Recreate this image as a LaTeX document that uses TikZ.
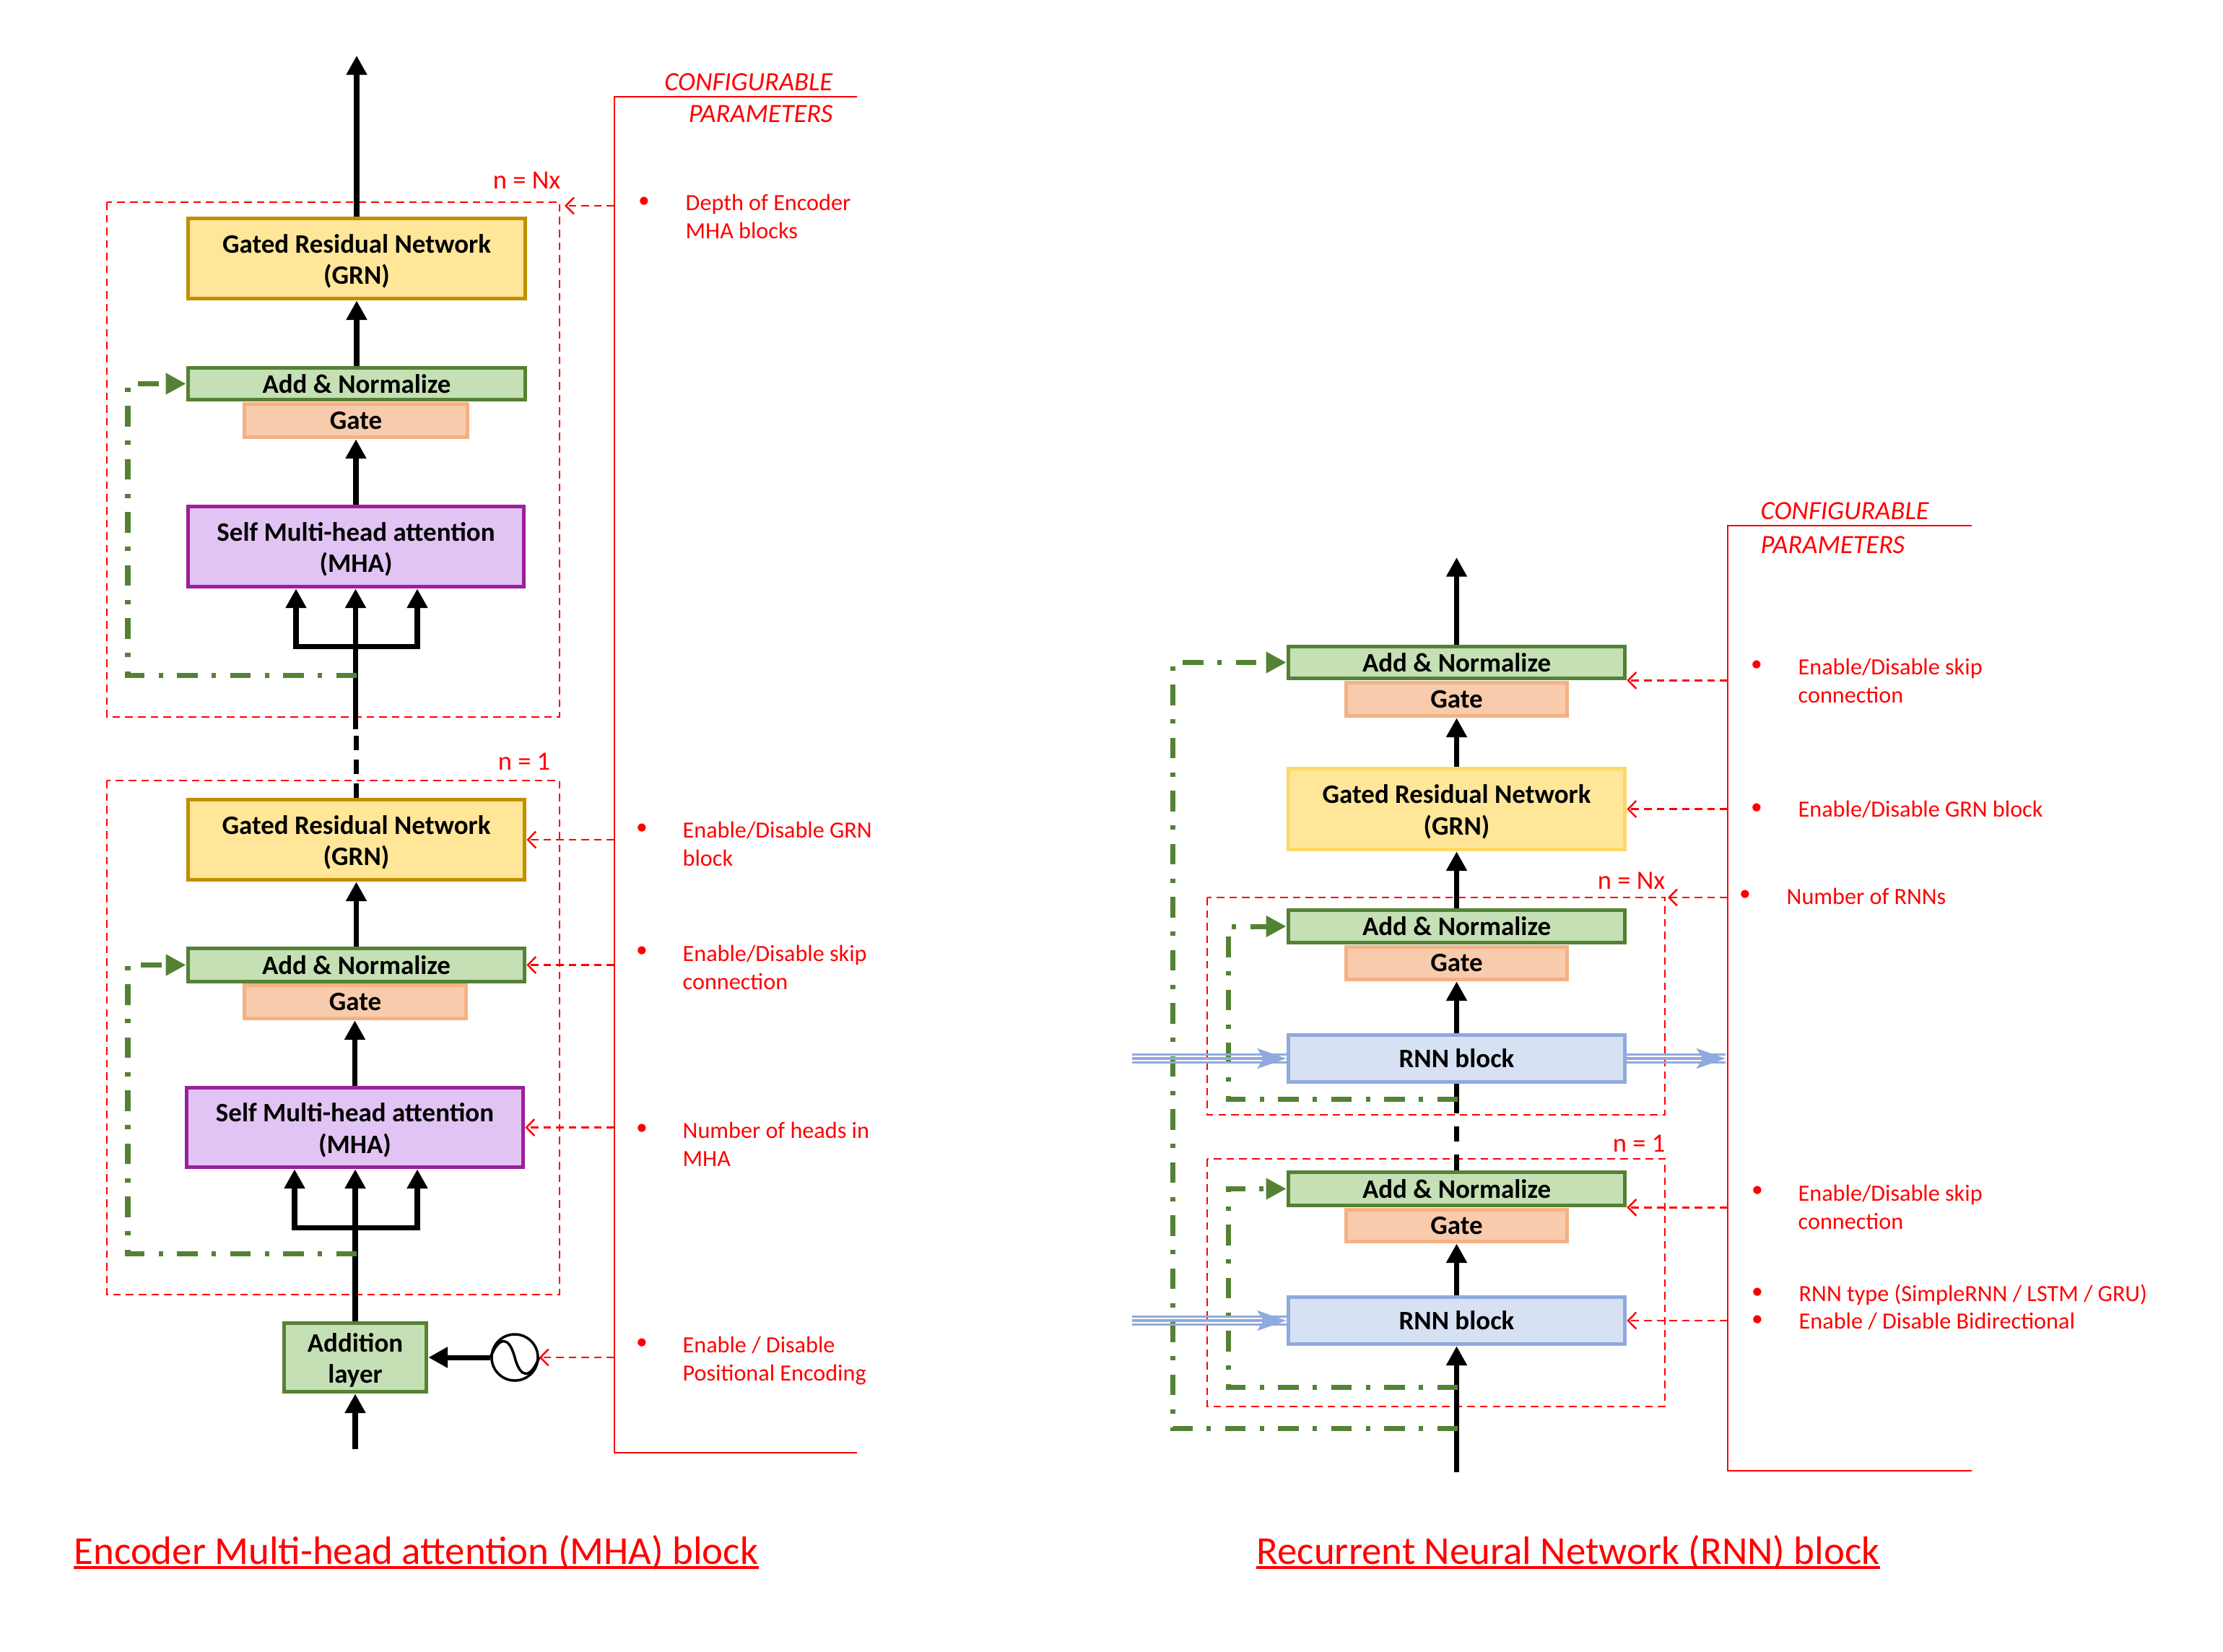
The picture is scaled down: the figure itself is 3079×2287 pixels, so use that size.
\documentclass[tikz,border=0pt]{standalone}
\usepackage{fontspec}
\setmainfont{Carlito}
\usetikzlibrary{arrows.meta,calc}
\definecolor{gline}{HTML}{548235}
\definecolor{gfill}{HTML}{C5E0B4}
\definecolor{ofill}{HTML}{F8CBAD}
\definecolor{oline}{HTML}{F4B183}
\definecolor{yfill}{HTML}{FFE699}
\definecolor{yline}{HTML}{BF9000}
\definecolor{ylight}{HTML}{FFD966}
\definecolor{pfill}{HTML}{E1C4F3}
\definecolor{pline}{HTML}{9C1F9C}
\definecolor{bfill}{HTML}{D6E2F3}
\definecolor{bline}{HTML}{8FAADC}
\newcommand{\dn}[1]{\raisebox{-1.1pt}[\height][\depth]{#1}}
\tikzset{
  x=0.01cm,y=-0.01cm,
  boxbase/.style={draw,line width=1.6pt,inner sep=0pt,align=center,font=\fontsize{10.5}{12.4}\selectfont\bfseries,text=black},
  addbox/.style={boxbase,draw=gline,fill=gfill},
  gatebox/.style={boxbase,draw=oline,fill=ofill},
  grnbox/.style={boxbase,draw=yline,fill=yfill},
  grnlight/.style={boxbase,draw=ylight,fill=yfill},
  mhabox/.style={boxbase,draw=pline,fill=pfill},
  rnnbox/.style={boxbase,draw=bline,fill=bfill},
  blk/.style={draw=black,line width=2pt,-{Triangle[length=7.6pt,width=7.8pt]}},
  blkplain/.style={draw=black,line width=2pt},
  blkdash/.style={draw=black,line width=2pt,dash pattern=on 5.7pt off 3.7pt},
  blkdashb/.style={draw=black,line width=2pt,dash pattern=on 6.2pt off 5pt},
  skipline/.style={draw=gline,line width=2pt,dash pattern=on 8pt off 5.6pt on 1.7pt off 5.6pt,-{Triangle[length=8pt,width=8pt]}},
  redbox/.style={draw=red,line width=0.7pt,dash pattern=on 3pt off 2pt},
  redarrow/.style={draw=red,line width=0.7pt,dash pattern=on 3pt off 2pt,-{Straight Barb[length=3.2pt,width=6.5pt,line width=0.7pt]}},
  frameline/.style={draw=red,line width=0.8pt},
  lab/.style={anchor=west,inner sep=0pt,text=red,align=left,font=\fontsize{9.15}{11.1}\selectfont},
  bul/.style={inner sep=0pt,text=red,font=\fontsize{9}{11}\selectfont},
  cfg/.style={inner sep=0pt,text=red,font=\fontsize{10.4}{12}\selectfont\itshape},
  nlab/.style={anchor=east,inner sep=0pt,text=red,font=\fontsize{10.4}{12}\selectfont},
  ttl/.style={anchor=west,inner sep=0pt,text=red,font=\fontsize{15.6}{18}\selectfont},
  blueln/.style={draw=bline,line width=0.9pt},
  bluehead/.style={draw=bline,line width=0.9pt,-{Stealth[length=11.5pt,width=8pt,inset=2.5pt]}},
}
\newcommand{\bx}[7]{%
  \pgfmathsetmacro{\bxcx}{(#2+#4)/2}%
  \pgfmathsetmacro{\bxcy}{(#3+#5)/2}%
  \pgfmathsetmacro{\bxw}{(#4-#2-5)*0.01}%
  \pgfmathsetmacro{\bxh}{(#5-#3-5)*0.01}%
  \node[#6,minimum width=\bxw cm,minimum height=\bxh cm] (#1) at (\bxcx,\bxcy) {#7};}
\begin{document}
\begin{tikzpicture}
\useasboundingbox (0,0) rectangle (3079,2287);
% dashed containers
\draw[redbox] (148,280) rectangle (775,993);
\draw[redbox] (148,1081) rectangle (775,1793);
\draw[redbox] (1672,1243) rectangle (2306,1544);
\draw[redbox] (1672,1605) rectangle (2306,1948);
% frames
\coordinate (fa) at (851,134); \coordinate (fb) at (851,2012);
\coordinate (ga) at (2393,728); \coordinate (gb) at (2393,2037);
\draw[frameline] (1187,134) -- (fa) -- (fb) -- (1187,2012);
\draw[frameline] (2731,728) -- (ga) -- (gb) -- (2731,2037);
% encoder boxes
\bx{grnA}{258}{300}{730}{416}{grnbox}{\dn{Gated Residual Network}\\\dn{(GRN)}}
\bx{addA}{258}{507}{730}{556}{addbox}{Add \& Normalize}
\bx{gateA}{336}{557}{650}{608}{gatebox}{Gate}
\bx{mhaA}{258}{699}{728}{815}{mhabox}{\dn{Self Multi-head attention}\\\dn{(MHA)}}
\bx{grnB}{258}{1105}{729}{1221}{grnbox}{\dn{Gated Residual Network}\\\dn{(GRN)}}
\bx{addB}{258}{1311}{729}{1362}{addbox}{Add \& Normalize}
\bx{gateB}{336}{1362}{648}{1413}{gatebox}{Gate}
\bx{mhaB}{256}{1504}{727}{1619}{mhabox}{\dn{Self Multi-head attention}\\\dn{(MHA)}}
\bx{addn}{391}{1830}{593}{1930}{addbox}{\dn{Addition}\\\dn{layer}}
\node[draw=black,line width=1pt,circle,minimum size=0.64cm,inner sep=0pt] (sine) at (713,1880) {};
% rnn boxes
\bx{addC}{1782}{893}{2253}{942}{addbox}{Add \& Normalize}
\bx{gateC}{1862}{943}{2173}{994}{gatebox}{Gate}
\bx{grnC}{1782}{1062}{2253}{1179}{grnlight}{\dn{Gated Residual Network}\\\dn{(GRN)}}
\bx{addD}{1782}{1258}{2253}{1308}{addbox}{Add \& Normalize}
\bx{gateD}{1862}{1309}{2173}{1359}{gatebox}{Gate}
\bx{rnnD}{1782}{1431}{2253}{1501}{rnnbox}{RNN block}
\bx{addE}{1782}{1621}{2253}{1672}{addbox}{Add \& Normalize}
\bx{gateE}{1862}{1673}{2173}{1722}{gatebox}{Gate}
\bx{rnnE}{1782}{1794}{2253}{1864}{rnnbox}{RNN block}
% encoder black connectors
\coordinate (topA) at (494,77);
\coordinate (midA) at (492.5,1010);
\coordinate (jA) at (492.5,895); \coordinate (jAl) at (410,895); \coordinate (jAr) at (578,895);
\coordinate (jB) at (491.5,1700); \coordinate (jBl) at (408,1700); \coordinate (jBr) at (578,1700);
\coordinate (inA) at (492,2007);
\draw[blk] (grnA.north) -- (grnA.north |- topA);
\draw[blk] (addA.north) -- (grnA.south);
\draw[blk] (mhaA.north) -- (mhaA.north |- gateA.south);
\draw[blk] (midA) -- (midA |- mhaA.south);
\draw[blk] (jA) -- (jAl) -- (jAl |- mhaA.south);
\draw[blk] (jA) -- (jAr) -- (jAr |- mhaA.south);
\draw[blkdash] (grnB.north) -- (grnB.north |- midA);
\draw[blk] (addB.north) -- (grnB.south);
\draw[blk] (mhaB.north) -- (mhaB.north |- gateB.south);
\draw[blk] (addn.north) -- (addn.north |- mhaB.south);
\draw[blk] (jB) -- (jBl) -- (jBl |- mhaB.south);
\draw[blk] (jB) -- (jBr) -- (jBr |- mhaB.south);
\draw[blk] (inA) -- (addn.south);
\draw[blk] (sine.west) -- (addn.east);
\draw[black,line width=1pt] (sine.west) .. controls +(12,-30) and +(-8,-30) .. (sine.center) .. controls +(8,30) and +(-12,30) .. (sine.east);
% rnn black connectors
\coordinate (topC) at (2017.5,772);
\coordinate (inC) at (2017.5,2039);
\coordinate (midC) at (2017.5,1540);
\draw[blk] (addC.north) -- (topC);
\draw[blk] (grnC.north) -- (gateC.south);
\draw[blk] (addD.north) -- (grnC.south);
\draw[blk] (rnnD.north) -- (gateD.south);
\draw[blkplain] (rnnD.south) -- (midC);
\draw[blkdashb] (addE.north) -- (midC);
\draw[blk] (rnnE.north) -- (gateE.south);
\draw[blk] (inC) -- (rnnE.south);
% skips
\coordinate (sA) at (494,935); \coordinate (cA) at (177,531);
\draw[skipline] (sA) -- (sA -| cA) -- (cA |- addA.west) -- (addA.west);
\coordinate (sB) at (494,1736); \coordinate (cB) at (177,1336);
\draw[skipline] (sB) -- (sB -| cB) -- (cB |- addB.west) -- (addB.west);
\coordinate (sD) at (2019,1522); \coordinate (cD) at (1701,1283);
\draw[skipline] (sD) -- (sD -| cD) -- (cD |- addD.west) -- (addD.west);
\coordinate (sE) at (2019,1921); \coordinate (cE) at (1701,1646);
\draw[skipline] (sE) -- (sE -| cE) -- (cE |- addE.west) -- (addE.west);
\coordinate (sC) at (2019,1978); \coordinate (cC) at (1624,917);
\draw[skipline] (sC) -- (sC -| cC) -- (cC |- addC.west) -- (addC.west);
% blue triple arrows
\coordinate (rinD) at (1568,1466);
\coordinate (rinE) at (1568,1829);
\coordinate (routD) at (2390,1466);
\foreach \o in {-1.6pt,1.6pt}{
  \draw[blueln] ([yshift=\o]rinD) -- ([yshift=\o]rinD -| rnnD.west);
  \draw[blueln] ([yshift=\o]rinE) -- ([yshift=\o]rinE -| rnnE.west);
  \draw[blueln] ([yshift=\o]routD -| rnnD.east) -- ([yshift=\o]routD);
}
\draw[bluehead] (rinD) -- (rinD -| rnnD.west);
\draw[bluehead] (rinE) -- (rinE -| rnnE.west);
\draw[bluehead] (routD -| rnnD.east) -- (routD);
% red arrows
\draw[redarrow] (fa |- 0,285) -- (782,285);
\draw[redarrow] (fa |- grnB.center) -- (grnB.east);
\draw[redarrow] (fa |- addB.center) -- (addB.east);
\draw[redarrow] (fa |- mhaB.center) -- (mhaB.east);
\draw[redarrow] (fa |- sine.center) -- (sine.east);
\draw[redarrow] (ga |- addC.south) -- (addC.south east);
\draw[redarrow] (ga |- grnC.center) -- (grnC.east);
\draw[redarrow] (ga |- 0,1243) -- (2310,1243);
\draw[redarrow] (ga |- addE.south) -- (addE.south east);
\draw[redarrow] (ga |- rnnE.center) -- (rnnE.east);
% labels encoder
\node[cfg,anchor=east] (cfgA) at (1154,114) {CONFIGURABLE};
\node[cfg,anchor=east] (cfgB) at (1154,158) {PARAMETERS};
\node[nlab] (nA) at (777,250) {n = Nx};
\node[nlab] (nB) at (763,1055) {n = 1};
\node[bul] (b1) at (892,280) {•};
\node[lab] (t1) at (949,299.5) {Depth of Encoder\\MHA blocks};
\node[bul] (b2) at (889,1148) {•};
\node[lab] (t2) at (945,1168.5) {Enable/Disable GRN\\block};
\node[bul] (b3) at (889,1318) {•};
\node[lab] (t3) at (945,1339.5) {Enable/Disable skip\\connection};
\node[bul] (b4) at (889,1564) {•};
\node[lab] (t4) at (945,1584.5) {Number of heads in\\MHA};
\node[bul] (b5) at (889,1861) {•};
\node[lab] (t5) at (945,1885) {Enable / Disable\\Positional Encoding};
% labels rnn
\node[cfg,anchor=west] (cfgC) at (2438,708) {CONFIGURABLE};
\node[cfg,anchor=west] (cfgD) at (2438,755) {PARAMETERS};
\node[nlab] (nC) at (2307,1220) {n = Nx};
\node[nlab] (nD) at (2307,1584) {n = 1};
\node[bul] (b6) at (2433,922) {•};
\node[lab] (t6) at (2490,943) {Enable/Disable skip\\connection};
\node[bul] (b7) at (2433,1120) {•};
\node[lab] (t7) at (2490,1121) {Enable/Disable GRN block};
\node[bul] (b8) at (2417,1240) {•};
\node[lab] (t8) at (2474,1241) {Number of RNNs};
\node[bul] (b9) at (2434,1650) {•};
\node[lab] (t9) at (2490,1671.5) {Enable/Disable skip\\connection};
\node[bul] (b10) at (2434,1791) {•};
\node[lab] (t10) at (2491,1793) {RNN type (SimpleRNN / LSTM / GRU)};
\node[bul] (b11) at (2434,1829) {•};
\node[lab] (t11) at (2491,1830) {Enable / Disable Bidirectional};
% titles
\node[ttl] (tA) at (102,2150) {Encoder Multi-head attention (MHA) block};
\node[ttl] (tB) at (1740,2150) {Recurrent Neural Network (RNN) block};
\coordinate (ulA) at (0,2171);
\draw[red,line width=0.9pt] (tA.west |- ulA) -- (tA.east |- ulA);
\draw[red,line width=0.9pt] (tB.west |- ulA) -- (tB.east |- ulA);
\end{tikzpicture}
\end{document}
